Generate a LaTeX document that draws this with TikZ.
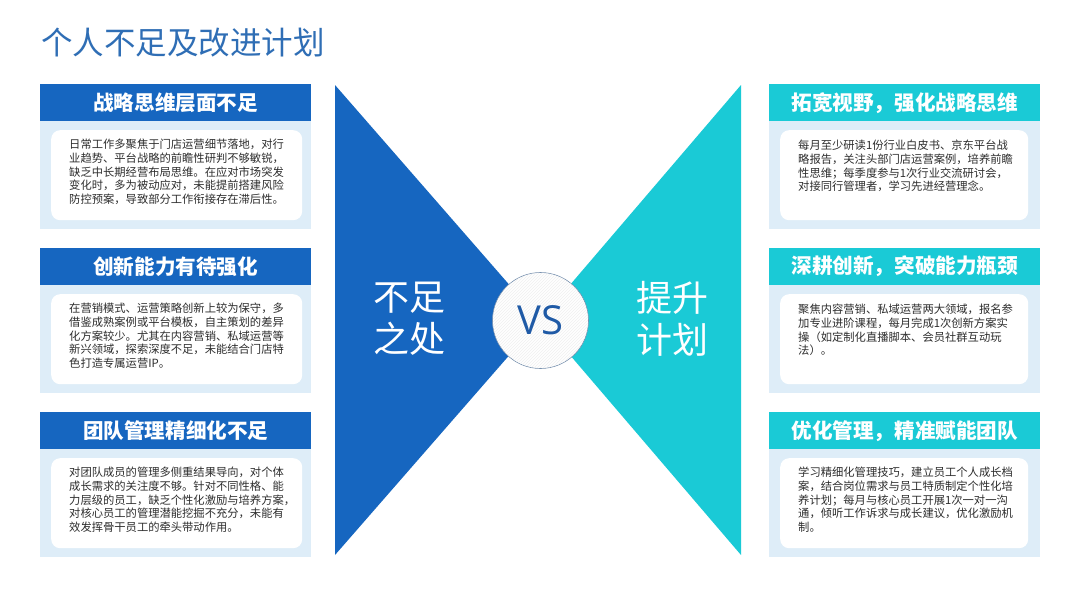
\documentclass[tikz,border=0pt]{standalone}
\usepackage{fontspec}
\setmainfont{Noto Sans CJK SC}
\newfontfamily\latinsans{Open Sans}
\usetikzlibrary{patterns}
\definecolor{deepblue}{RGB}{22,102,192}
\definecolor{cyanblue}{RGB}{26,202,214}
\definecolor{paleblue}{RGB}{222,237,248}
\definecolor{titleblue}{RGB}{47,110,181}
\definecolor{bodytext}{RGB}{45,45,45}
\definecolor{vsblue}{RGB}{31,90,166}
\definecolor{ringgray}{RGB}{120,145,175}
\begin{document}
\begin{tikzpicture}[x=1pt,y=-1pt,
  headbox/.style={anchor=north west, minimum width=271pt, minimum height=37pt, inner sep=0pt, text=white, font=\bfseries\fontsize{20.6}{23}\selectfont},
  lhead/.style={headbox, fill=deepblue},
  rhead/.style={headbox, fill=cyanblue},
  bodybg/.style={anchor=north west, fill=paleblue, minimum width=271pt, minimum height=108pt, inner sep=0pt},
  card/.style={anchor=north west, fill=white, rounded corners=9pt, minimum height=90pt, inner sep=0pt},
  lcard/.style={card, minimum width=251pt},
  rcard/.style={card, minimum width=248pt},
  bodytxt/.style={anchor=north west, align=left, inner sep=0pt, text=bodytext, font=\fontsize{11.3}{13.7}\selectfont},
  bigword/.style={text=white, align=center, font=\fontsize{36}{42}\selectfont}
]
\useasboundingbox (0,0) rectangle (1080,608);
\fill[white] (0,0) rectangle (1080,608);

% title
\node[anchor=west, inner sep=0pt, text=titleblue, font=\fontsize{31.5}{36}\selectfont] (title) at (41,43) {个人不足及改进计划};

% triangles
\fill[deepblue] (335,85) -- (335,555) -- (540,320) -- cycle;
\fill[cyanblue] (741,85) -- (741,555) -- (540,320) -- cycle;

% center circle
\node[circle, minimum size=96pt, inner sep=0pt, fill=white, draw=ringgray, line width=0.6pt] (vs) at (540.5,320.5) {};
\fill[pattern=north east lines, pattern color=black!6] (vs.center) circle (47.5pt);
\node[text=vsblue, font=\latinsans\fontsize{40}{44}\selectfont] (vstext) at (vs.center) {VS};

\node[bigword] (lword) at (409,319) {不足\\之处};
\node[bigword] (rword) at (672,319) {提升\\计划};

% left panels
\node[lhead] (lh1) at (40,84) {战略思维层面不足};
\node[bodybg] (lb1) at (40,121) {};
\node[lcard] (lc1) at (51,130) {};
\node[bodytxt] (lt1) at (69,139) {日常工作多聚焦于门店运营细节落地，对行\\业趋势、平台战略的前瞻性研判不够敏锐，\\缺乏中长期经营布局思维。在应对市场突发\\变化时，多为被动应对，未能提前搭建风险\\防控预案，导致部分工作衔接存在滞后性。};

\node[lhead] (lh2) at (40,248) {创新能力有待强化};
\node[bodybg] (lb2) at (40,285) {};
\node[lcard] (lc2) at (51,294) {};
\node[bodytxt] (lt2) at (69,303) {在营销模式、运营策略创新上较为保守，多\\借鉴成熟案例或平台模板，自主策划的差异\\化方案较少。尤其在内容营销、私域运营等\\新兴领域，探索深度不足，未能结合门店特\\色打造专属运营IP。};

\node[lhead] (lh3) at (40,412) {团队管理精细化不足};
\node[bodybg] (lb3) at (40,449) {};
\node[lcard] (lc3) at (51,458) {};
\node[bodytxt] (lt3) at (69,467) {对团队成员的管理多侧重结果导向，对个体\\成长需求的关注度不够。针对不同性格、能\\力层级的员工，缺乏个性化激励与培养方案，\\对核心员工的管理潜能挖掘不充分，未能有\\效发挥骨干员工的牵头带动作用。};

% right panels
\node[rhead] (rh1) at (769,84) {拓宽视野，强化战略思维};
\node[bodybg] (rb1) at (769,121) {};
\node[rcard] (rc1) at (780,130) {};
\node[bodytxt] (rt1) at (798,140) {每月至少研读1份行业白皮书、京东平台战\\略报告，关注头部门店运营案例，培养前瞻\\性思维；每季度参与1次行业交流研讨会，\\对接同行管理者，学习先进经营理念。};

\node[rhead] (rh2) at (769,248) {深耕创新，突破能力瓶颈};
\node[bodybg] (rb2) at (769,285) {};
\node[rcard] (rc2) at (780,294) {};
\node[bodytxt] (rt2) at (798,304) {聚焦内容营销、私域运营两大领域，报名参\\加专业进阶课程，每月完成1次创新方案实\\操（如定制化直播脚本、会员社群互动玩\\法）。};

\node[rhead] (rh3) at (769,412) {优化管理，精准赋能团队};
\node[bodybg] (rb3) at (769,449) {};
\node[rcard] (rc3) at (780,458) {};
\node[bodytxt] (rt3) at (798,467) {学习精细化管理技巧，建立员工个人成长档\\案，结合岗位需求与员工特质制定个性化培\\养计划；每月与核心员工开展1次一对一沟\\通，倾听工作诉求与成长建议，优化激励机\\制。};
\end{tikzpicture}
\end{document}
